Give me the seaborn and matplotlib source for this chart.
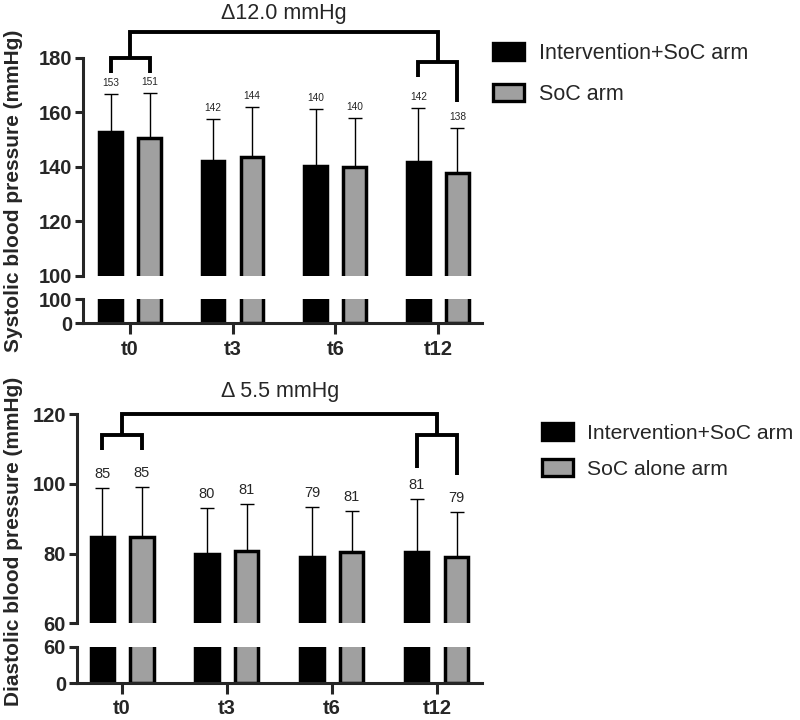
import matplotlib
matplotlib.use("Agg")
import matplotlib.pyplot as plt
import matplotlib.patches as mpatches
import pandas as pd
import seaborn as sns

# data
times = ['t0', 't3', 't6', 't12']

sbp_arms = ['Intervention+SoC arm', 'SoC arm']
sbp_int = [152.8, 142.1, 140.3, 141.8]
sbp_soc = [150.8, 143.8, 139.9, 137.9]
sbp_int_sd = [14.1, 15.4, 21.0, 19.8]
sbp_soc_sd = [16.2, 18.2, 18.0, 16.3]
sbp_int_lab = ['153', '142', '140', '142']
sbp_soc_lab = ['151', '144', '140', '138']
sbp_delta = '\u039412.0 mmHg'

dbp_arms = ['Intervention+SoC arm', 'SoC alone arm']
dbp_int = [84.9, 80.0, 79.0, 80.5]
dbp_soc = [84.9, 80.8, 80.5, 79.0]
dbp_int_sd = [14.0, 13.0, 14.3, 15.1]
dbp_soc_sd = [14.3, 13.4, 11.8, 13.0]
dbp_int_lab = ['85', '80', '79', '81']
dbp_soc_lab = ['85', '81', '81', '79']
dbp_delta = '\u0394 5.5 mmHg'

# bracket levels (main bar, left sub bar, left legs, right sub bar, right legs)
sbp_brk = [189.5, 180.0, (174.5, 174.5), 178.6, (173.0, 164.0)]
dbp_brk = [120.0, 114.1, (109.8, 109.8), 114.1, (104.5, 102.6)]

colors = ['black', '#a0a0a0']

sns.set_style("ticks")
plt.rcParams['font.family'] = ['Liberation Sans', 'DejaVu Sans']


def draw_panel(ax_hi, ax_lo, arms, m_int, m_soc, sd_int, sd_soc, lab_int, lab_soc,
               hi_lim, hi_ticks, lo_ticks, xlim, lab_size, lab_off, brk, xpad):
    df = pd.DataFrame({
        'time': times * 2,
        'value': m_int + m_soc,
        'arm': [arms[0]] * 4 + [arms[1]] * 4,
    })
    for ax in (ax_hi, ax_lo):
        sns.barplot(
            data=df, x='time', y='value', hue='arm', hue_order=arms,
            palette=colors, saturation=1, edgecolor='black', linewidth=2.5,
            width=0.76, gap=0.42, errorbar=None, legend=False, ax=ax,
        )
        ax.set_xlim(*xlim)
        ax.set_xlabel('')
        ax.set_ylabel('')
        for s in ['top', 'right']:
            ax.spines[s].set_visible(False)
        for s in ['left', 'bottom']:
            ax.spines[s].set_linewidth(2.2)
        ax.tick_params(axis='y', width=2.2, length=6, labelsize=14.5, pad=2)
        ax.tick_params(axis='x', width=2.2, length=8, labelsize=14.5, pad=xpad)

    ax_hi.set_ylim(*hi_lim)
    ax_hi.set_yticks(hi_ticks)
    ax_hi.spines['bottom'].set_visible(False)
    ax_hi.tick_params(axis='x', bottom=False, labelbottom=False)
    ax_lo.set_ylim(lo_ticks[0], lo_ticks[-1])
    ax_lo.set_yticks(lo_ticks)
    for lab in ax_hi.get_yticklabels() + ax_lo.get_yticklabels() + ax_lo.get_xticklabels():
        lab.set_fontweight('bold')

    # error bars (upper only) and value labels
    centers = []
    for cont, sds, labs in zip(ax_hi.containers, [sd_int, sd_soc], [lab_int, lab_soc]):
        xs = [p.get_x() + p.get_width() / 2 for p in cont]
        ys = [p.get_height() for p in cont]
        centers.append(xs)
        ax_hi.errorbar(xs, ys, yerr=[[0] * len(sds), sds], fmt='none', ecolor='black',
                       elinewidth=1.0, capsize=5, capthick=1.0, zorder=5)
        for x, y, sd, t in zip(xs, ys, sds, labs):
            ax_hi.annotate(t, (x, y + sd), xytext=(0, lab_off), textcoords='offset points',
                           ha='center', va='center', fontsize=lab_size)

    # significance brackets
    top, lsub, llegs, rsub, rlegs = brk
    kw = dict(color='black', lw=2.8, clip_on=False, solid_joinstyle='miter',
              solid_capstyle='butt', zorder=6)
    ax_hi.plot([centers[0][0], centers[0][0], centers[1][0], centers[1][0]],
               [llegs[0], lsub, lsub, llegs[1]], **kw)
    ax_hi.plot([centers[0][3], centers[0][3], centers[1][3], centers[1][3]],
               [rlegs[0], rsub, rsub, rlegs[1]], **kw)
    ax_hi.plot([0, 0, 3, 3], [lsub, top, top, rsub], **kw)


fig = plt.figure(figsize=(8, 7.2), dpi=100)

# systolic panel
ax1 = fig.add_axes([0.10375, 0.6167, 0.49875, 0.3028])
ax2 = fig.add_axes([0.10375, 0.5510, 0.49875, 0.0333])
draw_panel(ax1, ax2, sbp_arms, sbp_int, sbp_soc, sbp_int_sd, sbp_soc_sd,
           sbp_int_lab, sbp_soc_lab, (100, 180), [100, 120, 140, 160, 180], [0, 100],
           (-0.458, 3.43), 7.3, 8, sbp_brk, 4)

# diastolic panel
ax3 = fig.add_axes([0.09625, 0.1343, 0.50625, 0.2903])
ax4 = fig.add_axes([0.09625, 0.0510, 0.50625, 0.0508])
draw_panel(ax3, ax4, dbp_arms, dbp_int, dbp_soc, dbp_int_sd, dbp_soc_sd,
           dbp_int_lab, dbp_soc_lab, (60, 120), [60, 80, 100, 120], [0, 60],
           (-0.429, 3.43), 10.5, 10, dbp_brk, 3.5)

fig.text(284 / 800, 1 - 13 / 720, sbp_delta, ha='center', va='center', fontsize=15.5)
fig.text(280 / 800, 1 - 392 / 720, dbp_delta, ha='center', va='center', fontsize=15.5)

fig.text(14 / 800, 1 - 191 / 720, 'Systolic blood pressure (mmHg)', rotation=90,
         ha='center', va='center', fontsize=15, fontweight='bold')
fig.text(14 / 800, 1 - 541 / 720, 'Diastolic blood pressure (mmHg)', rotation=90,
         ha='center', va='center', fontsize=15, fontweight='bold')


def handles(arms):
    return [mpatches.Patch(facecolor=c, edgecolor='black', linewidth=2.4, label=a)
            for c, a in zip(colors, arms)]


fig.legend(handles=handles(sbp_arms), loc='upper left', bbox_to_anchor=(484 / 800, 1 - 34 / 720),
           frameon=False, fontsize=15.5, handlelength=1.45, handleheight=0.85,
           handletextpad=0.7, labelspacing=0.95, borderaxespad=0)
fig.legend(handles=handles(dbp_arms), loc='upper left', bbox_to_anchor=(534 / 800, 1 - 415 / 720),
           frameon=False, fontsize=15.2, handlelength=1.45, handleheight=0.85,
           handletextpad=0.65, labelspacing=0.74, borderaxespad=0)

fig.savefig('out.png', dpi=100)
